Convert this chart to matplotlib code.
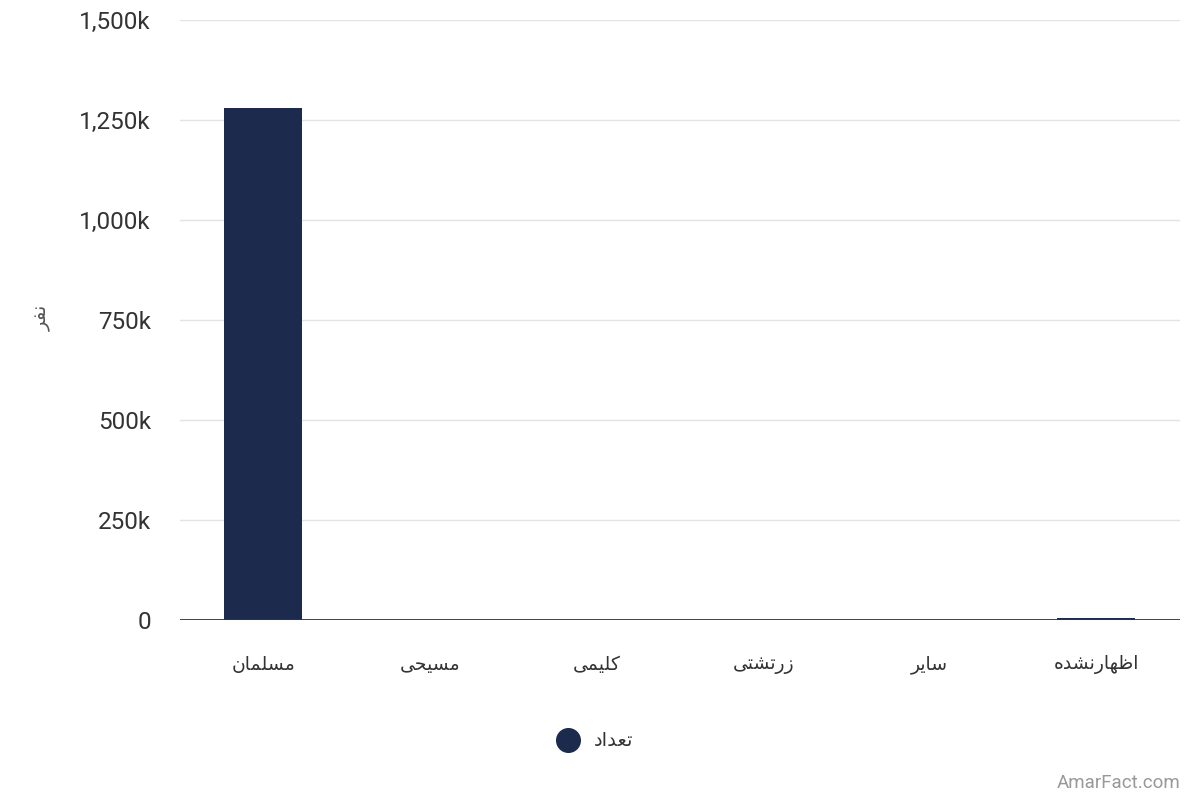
import matplotlib
matplotlib.use("Agg")
import matplotlib.pyplot as plt
from matplotlib.ticker import FuncFormatter, MultipleLocator
from matplotlib.lines import Line2D

# ---- data ----
categories = ["مسلمان", "مسیحی", "کلیمی", "زرتشتی", "سایر", "اظهارنشده"]
values = [1280000, 400, 150, 200, 300, 5000]
series_name = "تعداد"
y_label = "نفر"
watermark = "AmarFact.com"

# ---- minimal Persian shaping (presentation forms) ----
FORMS = {  # isolated, final, initial, medial
    "\u0627": ("\uFE8D", "\uFE8E", None, None),
    "\u062F": ("\uFEA9", "\uFEAA", None, None),
    "\u0631": ("\uFEAD", "\uFEAE", None, None),
    "\u0632": ("\uFEAF", "\uFEB0", None, None),
    "\u062A": ("\uFE95", "\uFE96", "\uFE97", "\uFE98"),
    "\u062D": ("\uFEA1", "\uFEA2", "\uFEA3", "\uFEA4"),
    "\u0633": ("\uFEB1", "\uFEB2", "\uFEB3", "\uFEB4"),
    "\u0634": ("\uFEB5", "\uFEB6", "\uFEB7", "\uFEB8"),
    "\u0638": ("\uFEC5", "\uFEC6", "\uFEC7", "\uFEC8"),
    "\u0639": ("\uFEC9", "\uFECA", "\uFECB", "\uFECC"),
    "\u0641": ("\uFED1", "\uFED2", "\uFED3", "\uFED4"),
    "\u06A9": ("\uFB8E", "\uFB8F", "\uFB90", "\uFB91"),
    "\u0644": ("\uFEDD", "\uFEDE", "\uFEDF", "\uFEE0"),
    "\u0645": ("\uFEE1", "\uFEE2", "\uFEE3", "\uFEE4"),
    "\u0646": ("\uFEE5", "\uFEE6", "\uFEE7", "\uFEE8"),
    "\u0647": ("\uFEE9", "\uFEEA", "\uFEEB", "\uFEEC"),
    "\u06CC": ("\uFBFC", "\uFBFD", "\uFBFE", "\uFBFF"),
}


def joins_left(ch):
    f = FORMS.get(ch)
    return f is not None and f[2] is not None


def shape(text):
    out = []
    n = len(text)
    for i, ch in enumerate(text):
        f = FORMS.get(ch)
        if f is None:
            out.append(ch)
            continue
        prev_joins = i > 0 and joins_left(text[i - 1])
        next_joins = i < n - 1 and text[i + 1] in FORMS and f[2] is not None
        if prev_joins and next_joins:
            out.append(f[3])
        elif prev_joins:
            out.append(f[1])
        elif next_joins:
            out.append(f[2])
        else:
            out.append(f[0])
    return "".join(reversed(out))


plt.rcParams["font.family"] = ["DejaVu Sans"]
num_font = ["Roboto", "DejaVu Sans"]

fig = plt.figure(figsize=(12, 8), dpi=100)
ax = fig.add_axes([0.15, 0.225, 0.833, 0.75])

bar_color = "#1c2a4d"
x = list(range(len(categories)))
ax.bar(x, values, width=0.47, color=bar_color, zorder=3)

ax.set_xlim(-0.5, len(categories) - 0.5)
ax.set_ylim(0, 1500000)
ax.yaxis.set_major_locator(MultipleLocator(250000))
ax.yaxis.set_major_formatter(FuncFormatter(lambda v, p: "0" if v == 0 else f"{v/1000:,.0f}k"))
ax.grid(axis="y", color="#e3e3e3", linewidth=1, zorder=0)
ax.axhline(0, color="#333333", linewidth=2.0, zorder=4)

for s in ax.spines.values():
    s.set_visible(False)
ax.tick_params(axis="both", length=0)
ax.tick_params(axis="y", pad=21, labelsize=17.5, labelcolor="#333333")
for lbl in ax.get_yticklabels():
    lbl.set_fontfamily(num_font)

ax.set_xticks(x)
ax.set_xticklabels([shape(c) for c in categories], fontsize=13.5, color="#333333")
ax.tick_params(axis="x", pad=25)

fig.text(42 / 1200, 1 - 318 / 800, shape(y_label), rotation=90, fontsize=14,
         color="#555555", ha="center", va="center")

# legend
fig.add_artist(Line2D([568 / 1200], [1 - 740 / 800], marker="o", markersize=17,
                      color=bar_color, linestyle="none", transform=fig.transFigure))
fig.text(594 / 1200, 1 - 740 / 800, shape(series_name), fontsize=14, color="#333333",
         ha="left", va="center")

fig.text(1180 / 1200, 1 - 783 / 800, watermark, fontsize=13.5, color="#999999",
         ha="right", va="center", family=num_font)

fig.savefig("out.png", dpi=100, facecolor="white")
